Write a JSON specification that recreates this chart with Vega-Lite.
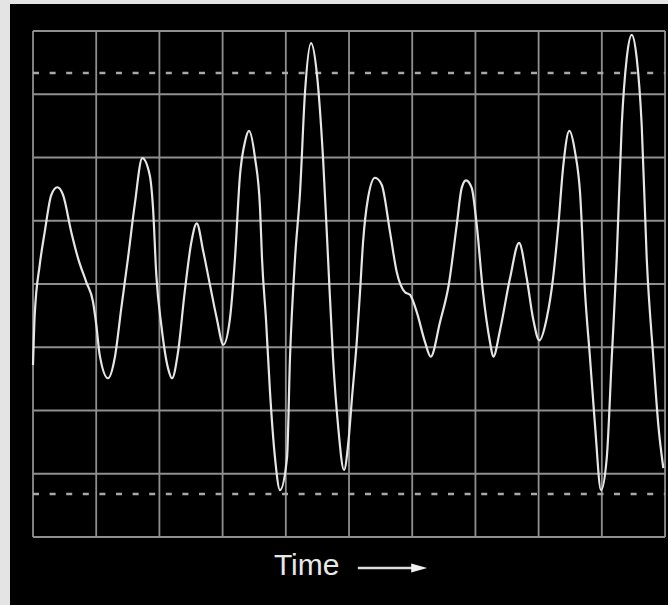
{
  "$schema": "https://vega.github.io/schema/vega-lite/v6.json",
  "width": 658,
  "height": 601,
  "autosize": "none",
  "padding": {"left": 10, "top": 4, "right": 0, "bottom": 0},
  "background": "#e4e4e4",
  "config": {"view": {"fill": "#000000", "stroke": null}},
  "datasets": {
    "wave": [
      {"t": 0.0, "v": 2.72}, {"t": 0.027, "v": 3.51}, {"t": 0.106, "v": 4.30}, {"t": 0.185, "v": 4.82},
      {"t": 0.29, "v": 5.41}, {"t": 0.385, "v": 5.53}, {"t": 0.475, "v": 5.41}, {"t": 0.606, "v": 4.82},
      {"t": 0.712, "v": 4.41}, {"t": 0.843, "v": 4.03}, {"t": 0.949, "v": 3.72}, {"t": 1.002, "v": 3.35},
      {"t": 1.055, "v": 2.88}, {"t": 1.187, "v": 2.51}, {"t": 1.293, "v": 2.83}, {"t": 1.397, "v": 3.62},
      {"t": 1.503, "v": 4.41}, {"t": 1.609, "v": 5.25}, {"t": 1.729, "v": 5.99}, {"t": 1.847, "v": 5.72},
      {"t": 1.899, "v": 5.20}, {"t": 1.951, "v": 4.14}, {"t": 2.030, "v": 3.35}, {"t": 2.136, "v": 2.67},
      {"t": 2.199, "v": 2.51}, {"t": 2.294, "v": 2.92}, {"t": 2.400, "v": 3.87}, {"t": 2.505, "v": 4.66},
      {"t": 2.590, "v": 4.96}, {"t": 2.695, "v": 4.51}, {"t": 2.801, "v": 3.98}, {"t": 2.907, "v": 3.46},
      {"t": 3.011, "v": 3.04}, {"t": 3.117, "v": 3.46}, {"t": 3.196, "v": 4.41}, {"t": 3.275, "v": 5.72},
      {"t": 3.354, "v": 6.25}, {"t": 3.418, "v": 6.42}, {"t": 3.513, "v": 5.99}, {"t": 3.592, "v": 5.20},
      {"t": 3.623, "v": 4.41}, {"t": 3.687, "v": 3.43}, {"t": 3.750, "v": 2.29}, {"t": 3.829, "v": 1.25},
      {"t": 3.908, "v": 0.74}, {"t": 4.019, "v": 1.25}, {"t": 4.066, "v": 2.83}, {"t": 4.146, "v": 4.41},
      {"t": 4.225, "v": 5.45}, {"t": 4.304, "v": 7.04}, {"t": 4.399, "v": 7.81}, {"t": 4.494, "v": 7.30},
      {"t": 4.589, "v": 5.99}, {"t": 4.668, "v": 4.41}, {"t": 4.747, "v": 2.83}, {"t": 4.826, "v": 1.77},
      {"t": 4.921, "v": 1.06}, {"t": 4.99, "v": 1.5}, {"t": 5.047, "v": 2.2}, {"t": 5.122, "v": 3.08},
      {"t": 5.174, "v": 3.87}, {"t": 5.222, "v": 4.66}, {"t": 5.301, "v": 5.36}, {"t": 5.411, "v": 5.68},
      {"t": 5.517, "v": 5.57}, {"t": 5.649, "v": 4.82}, {"t": 5.755, "v": 4.19}, {"t": 5.886, "v": 3.87},
      {"t": 5.965, "v": 3.83}, {"t": 6.071, "v": 3.56}, {"t": 6.203, "v": 3.08}, {"t": 6.293, "v": 2.85},
      {"t": 6.44, "v": 3.4}, {"t": 6.58, "v": 4.0}, {"t": 6.704, "v": 4.93}, {"t": 6.783, "v": 5.52},
      {"t": 6.851, "v": 5.64}, {"t": 6.941, "v": 5.52}, {"t": 7.021, "v": 4.93}, {"t": 7.120, "v": 3.87},
      {"t": 7.231, "v": 3.08}, {"t": 7.283, "v": 2.85}, {"t": 7.389, "v": 3.27}, {"t": 7.547, "v": 4.09},
      {"t": 7.690, "v": 4.65}, {"t": 7.812, "v": 4.09}, {"t": 7.911, "v": 3.46}, {"t": 8.011, "v": 3.11},
      {"t": 8.128, "v": 3.46}, {"t": 8.228, "v": 4.09}, {"t": 8.312, "v": 4.93}, {"t": 8.391, "v": 5.88},
      {"t": 8.486, "v": 6.42}, {"t": 8.576, "v": 6.09}, {"t": 8.655, "v": 5.45}, {"t": 8.734, "v": 3.87},
      {"t": 8.813, "v": 2.83}, {"t": 8.892, "v": 1.77}, {"t": 8.987, "v": 0.74}, {"t": 9.078, "v": 1.25},
      {"t": 9.157, "v": 2.83}, {"t": 9.236, "v": 4.41}, {"t": 9.315, "v": 6.51}, {"t": 9.394, "v": 7.57},
      {"t": 9.473, "v": 7.94}, {"t": 9.552, "v": 7.57}, {"t": 9.631, "v": 6.51}, {"t": 9.710, "v": 4.41},
      {"t": 9.815, "v": 2.83}, {"t": 9.894, "v": 1.77}, {"t": 9.973, "v": 1.09}
    ],
    "vgrid": [{"t": 0}, {"t": 1}, {"t": 2}, {"t": 3}, {"t": 4}, {"t": 5}, {"t": 6}, {"t": 7}, {"t": 8}, {"t": 9}, {"t": 10}],
    "hgrid": [{"v": 0}, {"v": 1}, {"v": 2}, {"v": 3}, {"v": 4}, {"v": 5}, {"v": 6}, {"v": 7}, {"v": 8}],
    "dashed": [{"v": 7.336}, {"v": 0.68}],
    "label": [{"text": "Time", "t": 4.33, "v": -0.6}],
    "arrow": [{"t": 5.14, "t2": 6.05, "v": -0.49}],
    "head": [{"t": 6.11, "v": -0.49}]
  },
  "layer": [
    {
      "data": {"name": "vgrid"},
      "mark": {"type": "rule", "stroke": "#8f8f8f", "strokeWidth": 1.8},
      "encoding": {
        "x": {"field": "t", "type": "quantitative", "axis": null, "scale": {"domain": [-0.364, 10.047], "nice": false, "zero": false}},
        "y": {"datum": 0, "type": "quantitative", "axis": null, "scale": {"domain": [-1.075, 8.427], "nice": false, "zero": false}},
        "y2": {"datum": 8}
      }
    },
    {
      "data": {"name": "hgrid"},
      "mark": {"type": "rule", "stroke": "#8f8f8f", "strokeWidth": 1.8},
      "encoding": {
        "y": {"field": "v", "type": "quantitative"},
        "x": {"datum": 0, "type": "quantitative"},
        "x2": {"datum": 10}
      }
    },
    {
      "data": {"name": "dashed"},
      "mark": {"type": "rule", "stroke": "#a8a8a8", "strokeWidth": 2.4, "strokeDash": [6, 10.6]},
      "encoding": {
        "y": {"field": "v", "type": "quantitative"},
        "x": {"datum": 0, "type": "quantitative"},
        "x2": {"datum": 10}
      }
    },
    {
      "data": {"name": "wave"},
      "mark": {"type": "line", "stroke": "#e6e6e6", "strokeWidth": 2.2, "interpolate": "monotone"},
      "encoding": {
        "x": {"field": "t", "type": "quantitative"},
        "y": {"field": "v", "type": "quantitative"}
      }
    },
    {
      "data": {"name": "label"},
      "mark": {"type": "text", "font": "Liberation Sans", "fontSize": 30, "color": "#e8e8e8", "align": "center", "baseline": "alphabetic"},
      "encoding": {
        "x": {"field": "t", "type": "quantitative"},
        "y": {"field": "v", "type": "quantitative"},
        "text": {"field": "text"}
      }
    },
    {
      "data": {"name": "arrow"},
      "mark": {"type": "rule", "stroke": "#dcdcdc", "strokeWidth": 2.5},
      "encoding": {
        "x": {"field": "t", "type": "quantitative"},
        "x2": {"field": "t2"},
        "y": {"field": "v", "type": "quantitative"}
      }
    },
    {
      "data": {"name": "head"},
      "mark": {"type": "point", "shape": "M-1,-0.55L1,0L-1,0.55Z", "filled": true, "size": 256, "color": "#f0f0f0", "opacity": 1},
      "encoding": {
        "x": {"field": "t", "type": "quantitative"},
        "y": {"field": "v", "type": "quantitative"}
      }
    }
  ]
}
